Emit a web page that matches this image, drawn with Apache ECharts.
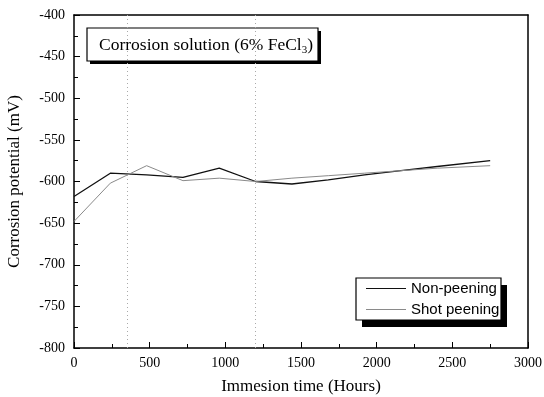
<!DOCTYPE html>
<html>
<head>
<meta charset="utf-8">
<script src="https://cdn.jsdelivr.net/npm/echarts@6/dist/echarts.min.js"></script>
<style>
  html, body { margin: 0; padding: 0; background: #fff; }
  #chart { width: 544px; height: 397px; }
</style>
</head>
<body>
<div id="chart"></div>
<script>
// Immersion time (hours) and corrosion potential (mV)
var hoursNon = [0, 240, 480, 720, 960, 1200, 1440, 1680, 1920, 2160, 2400, 2750];
var nonPeening = [-618, -590, -592, -595, -584, -600, -603, -598, -592, -587, -582, -575];
var hoursShot = [0, 240, 480, 720, 960, 1200, 1440, 1680, 1920, 2160, 2400, 2750];
var shotPeening = [-648, -602, -581, -599, -596, -600, -596, -593, -590, -587, -584, -581];
var markHours = [350, 1200];
var seriesNames = ['Non-peening', 'Shot peening'];

function pairs(xs, ys) {
  var out = [];
  for (var i = 0; i < xs.length; i++) out.push([xs[i], ys[i]]);
  return out;
}

var serif = '"Liberation Serif", "DejaVu Serif", serif';
var sans = '"Liberation Sans", Arial, sans-serif';

// framed box with a hard black drop shadow
function shadowBox(x, y, w, h, dx, dy) {
  return [
    { type: 'rect', shape: { x: x + dx, y: y + dy, width: w, height: h }, style: { fill: '#000' }, z: 5 },
    { type: 'rect', shape: { x: x, y: y, width: w, height: h }, style: { fill: '#fff', stroke: '#000', lineWidth: 1.2 }, z: 5 }
  ];
}

var chart = echarts.init(document.getElementById('chart'));
chart.setOption({
  animation: false,
  backgroundColor: '#fff',
  graphic: shadowBox(87, 28, 231, 33, 3, 3).concat(shadowBox(356, 278, 145, 42, 6, 7)),
  title: {
    text: '{a|Corrosion solution (6% FeCl}{s|3}{a|)}',
    left: 99, top: 35, padding: 0, z: 10,
    textStyle: {
      rich: {
        a: { fontFamily: serif, fontSize: 17.5, fontWeight: 'normal', color: '#000' },
        s: { fontFamily: serif, fontSize: 11, fontWeight: 'normal', color: '#000', verticalAlign: 'bottom', padding: [10, 0, 0, 0] }
      }
    }
  },
  legend: {
    data: seriesNames,
    orient: 'vertical',
    left: 366, top: 281, z: 10,
    itemWidth: 40, itemHeight: 14, itemGap: 6,
    padding: 0,
    icon: 'path://M0,7 L40,7 L40,8 L0,8 Z',
    textStyle: { fontFamily: sans, fontSize: 15, color: '#000' }
  },
  grid: { left: 74, right: 16, top: 15, bottom: 49, outerBoundsMode: 'none' },
  xAxis: [{
    type: 'value', min: 0, max: 3000, interval: 500,
    name: 'Immesion time (Hours)', nameLocation: 'middle', nameGap: 30,
    nameTextStyle: { fontFamily: serif, fontSize: 17, color: '#000' },
    axisLine: { lineStyle: { color: '#000', width: 1.5 } },
    axisTick: { inside: true, length: 6, lineStyle: { color: '#000' } },
    minorTick: { show: true, splitNumber: 2, length: 4, lineStyle: { color: '#000' } },
    axisLabel: { fontFamily: serif, fontSize: 14, color: '#000', margin: 8,
      formatter: function(v) { return String(v); } },
    splitLine: { show: false }
  }, {
    type: 'value', min: 0, max: 3000, interval: 500, position: 'top',
    axisLine: { show: true, onZero: false, lineStyle: { color: '#000', width: 1.5 } },
    axisTick: { show: false }, axisLabel: { show: false }, splitLine: { show: false }
  }],
  yAxis: [{
    type: 'value', min: -800, max: -400, interval: 50,
    name: 'Corrosion potential (mV)', nameLocation: 'middle', nameGap: 51,
    nameTextStyle: { fontFamily: serif, fontSize: 17, color: '#000' },
    axisLine: { show: true, onZero: false, lineStyle: { color: '#000', width: 1.5 } },
    axisTick: { inside: true, length: 6, lineStyle: { color: '#000' } },
    minorTick: { show: true, splitNumber: 2, length: 4, lineStyle: { color: '#000' } },
    axisLabel: { fontFamily: serif, fontSize: 14, color: '#000', margin: 9 },
    splitLine: { show: false }
  }, {
    type: 'value', min: -800, max: -400, interval: 50, position: 'right',
    axisLine: { show: true, onZero: false, lineStyle: { color: '#000', width: 1.5 } },
    axisTick: { show: false }, axisLabel: { show: false }, splitLine: { show: false }
  }],
  series: [{
    name: seriesNames[0], type: 'line', data: pairs(hoursNon, nonPeening),
    symbol: 'none', color: '#111',
    lineStyle: { color: '#111', width: 1.3 },
    markLine: {
      silent: true, symbol: 'none', label: { show: false },
      lineStyle: { color: '#aaa', type: [1, 3], width: 1 },
      data: markHours.map(function(h) { return { xAxis: h }; })
    }
  }, {
    name: seriesNames[1], type: 'line', data: pairs(hoursShot, shotPeening),
    symbol: 'none', color: '#8a8a8a',
    lineStyle: { color: '#8a8a8a', width: 1 }
  }]
});
</script>
</body>
</html>
